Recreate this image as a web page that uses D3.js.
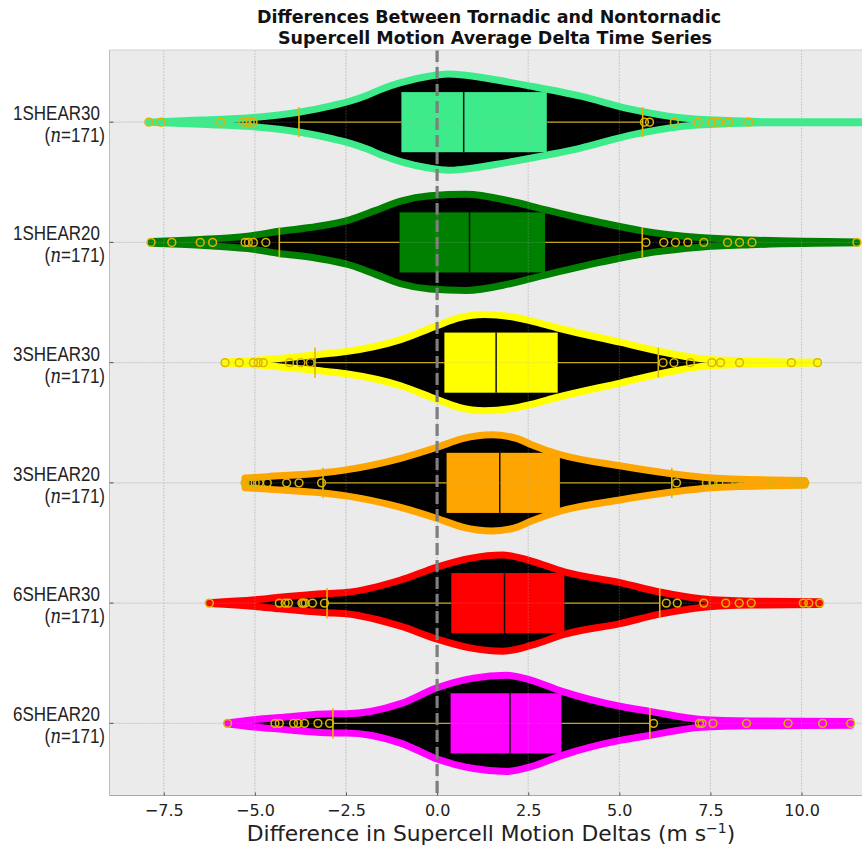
<!DOCTYPE html>
<html>
<head>
<meta charset="utf-8">
<script src="https://cdn.jsdelivr.net/npm/d3@7"></script>
<style>
  body { margin: 0; background: #fff; }
  svg { display: block; }
</style>
</head>
<body>
<div id="chart"></div>
<script>
const categories = ['1SHEAR30', '1SHEAR20', '3SHEAR30', '3SHEAR20', '6SHEAR30', '6SHEAR20'];
const counts = [171, 171, 171, 171, 171, 171];
const q1 = [-0.98, -1.03, 0.2, 0.26, 0.39, 0.37];
const medians = [0.73, 0.89, 1.62, 1.72, 1.85, 2.0];
const q3 = [3.01, 2.96, 3.31, 3.37, 3.49, 3.41];
const whiskerLow = [-3.79, -4.33, -3.35, -3.13, -3.02, -2.86];
const whiskerHigh = [5.64, 5.63, 6.07, 6.44, 6.11, 5.84];
const outliers = [
  [-7.91, -7.58, -5.94, -5.33, -5.22, -5.13, -5.05, 5.69, 5.83, 6.51, 7.16, 7.54, 7.72, 8.0, 8.55, 12.3],
  [-7.85, -7.28, -6.5, -6.16, -5.27, -5.18, -5.04, -4.7, 5.73, 6.22, 6.54, 6.88, 7.32, 7.97, 8.3, 8.64, 11.52],
  [-5.82, -5.43, -5.04, -4.91, -4.77, -4.05, -3.74, -3.48, 6.2, 6.5, 6.95, 7.54, 7.78, 8.3, 9.72, 10.44],
  [-5.27, -5.13, -4.99, -4.88, -4.66, -4.13, -3.79, -3.17, 6.57, 7.39, 7.57, 7.73, 8.21, 9.17, 9.86, 10.09],
  [-6.25, -4.33, -4.17, -4.08, -3.71, -3.67, -3.62, -3.42, -3.09, 6.29, 6.59, 7.32, 7.92, 8.29, 8.62, 10.05, 10.2, 10.5],
  [-5.75, -4.45, -4.33, -3.94, -3.81, -3.64, -3.27, -2.95, 5.94, 7.2, 7.27, 7.57, 8.49, 9.63, 10.58, 11.35]
];
// kernel density outline per violin: [value, relative density]
const density1S30 = [[-7.9, 0], [-6.5, 0.045], [-5.13, 0.09], [-3.76, 0.21], [-2.85, 0.35], [-2.38, 0.44], [-1.92, 0.56], [-1.48, 0.7], [-1.0, 0.82], [-0.19, 0.96], [0.3, 1.0], [0.72, 0.98], [1.6, 0.88], [2.56, 0.75], [3.94, 0.54], [5.31, 0.27], [6.69, 0.09], [8.06, 0.03], [9.0, 0.01], [12.3, 0.01]];
const density1S20 = [[-7.85, 0.02], [-6.5, 0.06], [-5.2, 0.13], [-4.33, 0.23], [-3.3, 0.33], [-2.4, 0.47], [-1.7, 0.66], [-1.0, 0.86], [-0.2, 0.97], [0.8, 1.0], [2.0, 0.86], [2.96, 0.68], [4.5, 0.41], [5.63, 0.24], [7.2, 0.1], [8.6, 0.05], [11.52, 0.01]];
const density3S30 = [[-5.82, 0.01], [-4.77, 0.06], [-3.35, 0.16], [-2.5, 0.23], [-1.0, 0.48], [0, 0.77], [0.6, 0.93], [1.3, 1.0], [2.0, 0.96], [2.57, 0.87], [3.31, 0.72], [5.05, 0.42], [6.07, 0.24], [7.25, 0.08], [8.35, 0.035], [10.44, 0.01]];
const density3S20 = [[-5.27, 0.1], [-4.66, 0.13], [-3.13, 0.21], [-2.5, 0.27], [-1.0, 0.51], [0, 0.74], [0.7, 0.92], [1.5, 1.0], [2.2, 0.92], [2.57, 0.8], [3.37, 0.59], [5.05, 0.35], [6.44, 0.19], [7.54, 0.1], [9.17, 0.06], [10.09, 0.05]];
const density6S30 = [[-6.25, 0.01], [-5.0, 0.07], [-4.33, 0.12], [-3.02, 0.2], [-2.5, 0.22], [-1.0, 0.48], [0, 0.75], [0.9, 0.93], [1.8, 1.0], [2.57, 0.88], [3.49, 0.65], [5.05, 0.42], [6.11, 0.23], [7.25, 0.09], [8.6, 0.04], [10.5, 0.03]];
const density6S20 = [[-5.75, 0.01], [-5.1, 0.07], [-4.33, 0.12], [-2.86, 0.2], [-2.5, 0.2], [-1.0, 0.41], [0, 0.74], [1.0, 0.94], [1.9, 1.0], [2.57, 0.9], [3.41, 0.67], [5.05, 0.35], [5.84, 0.25], [7.25, 0.08], [8.6, 0.05], [11.35, 0.04]];
const densities = [density1S30, density1S20, density3S30, density3S20, density6S30, density6S20];
const xTicks = [-7.5, -5.0, -2.5, 0.0, 2.5, 5.0, 7.5, 10.0];

const palette = ['#3deb8b', '#008000', '#ffff00', '#ffa500', '#ff0000', '#ff00ff'];

const width = 862;
const height = 851;
const plot = { left: 109.5, right: 862, top: 50, bottom: 795.5 };
const violinHalf = 0.4; // max half width, in category units
const boxHalf = 0.25;
const capHalf = 0.125;

const svg = d3.select('#chart').append('svg')
  .attr('width', width)
  .attr('height', height);

const x = d3.scaleLinear().domain([-8.99, 11.66]).range([plot.left, plot.right]);
const y = d3.scaleLinear().domain([0.4, 6.6]).range([plot.top, plot.bottom]);
const unit = y(1) - y(0);

svg.append('defs').append('clipPath').attr('id', 'plot-clip')
  .append('rect')
  .attr('x', plot.left).attr('y', plot.top)
  .attr('width', plot.right - plot.left).attr('height', plot.bottom - plot.top);

// Axes background
svg.append('rect')
  .attr('x', plot.left).attr('y', plot.top)
  .attr('width', plot.right - plot.left).attr('height', plot.bottom - plot.top)
  .attr('fill', '#ebebeb');

const gridUnder = svg.append('g');
const body = svg.append('g').attr('clip-path', 'url(#plot-clip)');

const drawGrid = (g, color, opacity) => {
  g.selectAll('.vgrid').data(xTicks).enter().append('line')
    .attr('x1', (d) => x(d)).attr('x2', (d) => x(d))
    .attr('y1', plot.top).attr('y2', plot.bottom)
    .attr('stroke', color).attr('stroke-width', 0.9)
    .attr('stroke-dasharray', '2,1')
    .attr('opacity', opacity);
  g.selectAll('.hgrid').data(categories).enter().append('line')
    .attr('x1', plot.left).attr('x2', plot.right)
    .attr('y1', (_, i) => y(i + 1)).attr('y2', (_, i) => y(i + 1))
    .attr('stroke', color).attr('stroke-width', 0.9)
    .attr('stroke-dasharray', '2,1')
    .attr('opacity', opacity);
};
drawGrid(gridUnder, '#d0d0d0', 1);

// Violins: black body with thick coloured edge
categories.forEach((cat, i) => {
  const cy = y(i + 1);
  const area = d3.area()
    .curve(d3.curveMonotoneX)
    .x((d) => x(d[0]))
    .y0((d) => cy - d[1] * violinHalf * unit)
    .y1((d) => cy + d[1] * violinHalf * unit);
  body.append('path')
    .attr('d', area(densities[i]))
    .attr('fill', '#000')
    .attr('stroke', palette[i])
    .attr('stroke-width', 7)
    .attr('stroke-linejoin', 'round');
});

// Box plots on top
categories.forEach((cat, i) => {
  const cy = y(i + 1);
  const g = body.append('g');

  // Whiskers
  g.append('line')
    .attr('x1', x(whiskerLow[i])).attr('x2', x(q1[i]))
    .attr('y1', cy).attr('y2', cy)
    .attr('stroke', '#c9a400').attr('stroke-width', 1.4);
  g.append('line')
    .attr('x1', x(q3[i])).attr('x2', x(whiskerHigh[i]))
    .attr('y1', cy).attr('y2', cy)
    .attr('stroke', '#c9a400').attr('stroke-width', 1.4);
  [whiskerLow[i], whiskerHigh[i]].forEach((w) => {
    g.append('line')
      .attr('x1', x(w)).attr('x2', x(w))
      .attr('y1', cy - capHalf * unit).attr('y2', cy + capHalf * unit)
      .attr('stroke', '#e0b800').attr('stroke-width', 1.6);
  });

  // Box
  g.append('rect')
    .attr('x', x(q1[i]))
    .attr('y', cy - boxHalf * unit)
    .attr('width', x(q3[i]) - x(q1[i]))
    .attr('height', 2 * boxHalf * unit)
    .attr('fill', palette[i]);

  // Median
  g.append('line')
    .attr('x1', x(medians[i])).attr('x2', x(medians[i]))
    .attr('y1', cy - boxHalf * unit).attr('y2', cy + boxHalf * unit)
    .attr('stroke', '#111').attr('stroke-width', 1.5);

  // Fliers
  g.selectAll('.flier').data(outliers[i]).enter().append('circle')
    .attr('cx', (d) => x(d)).attr('cy', cy)
    .attr('r', 3.9)
    .attr('fill', 'none')
    .attr('stroke', '#dcb400')
    .attr('stroke-width', 1.5);
});

// Zero reference line
body.append('line')
  .attr('x1', x(0)).attr('x2', x(0))
  .attr('y1', plot.top).attr('y2', plot.bottom)
  .attr('stroke', '#7a7a7a')
  .attr('stroke-width', 3.2)
  .attr('stroke-dasharray', '12,5');

// Grid faintly over the marks
drawGrid(body.append('g'), '#b2b2b2', 0.3);

// Frame
svg.append('line')
  .attr('x1', plot.left).attr('x2', plot.left)
  .attr('y1', plot.top).attr('y2', plot.bottom)
  .attr('stroke', '#bbbbbb').attr('stroke-width', 1);
svg.append('line')
  .attr('x1', plot.left).attr('x2', plot.right)
  .attr('y1', plot.top).attr('y2', plot.top)
  .attr('stroke', '#d0d0d0').attr('stroke-width', 1);
svg.append('line')
  .attr('x1', plot.left).attr('x2', plot.right)
  .attr('y1', plot.bottom).attr('y2', plot.bottom)
  .attr('stroke', '#a8a8a8').attr('stroke-width', 1.2);

// X axis
const xAxis = svg.append('g')
  .attr('transform', `translate(0,${plot.bottom})`)
  .call(d3.axisBottom(x).tickValues(xTicks).tickSize(-3).tickPadding(9)
    .tickFormat((d) => d3.format('.1f')(d).replace('-', '\u2212')));
xAxis.select('.domain').remove();
xAxis.selectAll('.tick line').attr('stroke', '#555');
xAxis.selectAll('.tick text')
  .attr('fill', '#222')
  .style('font-family', '"DejaVu Sans", sans-serif')
  .style('font-size', '16px');

// Y tick marks
svg.selectAll('.ytick').data(categories).enter().append('line')
  .attr('x1', plot.left).attr('x2', plot.left + 4)
  .attr('y1', (_, i) => y(i + 1)).attr('y2', (_, i) => y(i + 1))
  .attr('stroke', '#555').attr('stroke-width', 1);

// Y tick labels (narrowed horizontally like the reference)
const yLab = svg.selectAll('.ylabel').data(categories).enter().append('g')
  .attr('transform', (_, i) => `translate(105,${y(i + 1)}) scale(0.85,1)`)
  .append('text')
  .attr('text-anchor', 'end')
  .style('font-family', '"Liberation Sans", Arial, sans-serif')
  .style('font-size', '20px')
  .attr('fill', '#222');
yLab.append('tspan')
  .attr('x', -6)
  .attr('y', -2)
  .text((d) => d);
const nLine = yLab.append('tspan')
  .attr('x', 0)
  .attr('y', 20);
nLine.append('tspan').text('(');
nLine.append('tspan')
  .style('font-family', '"DejaVu Serif", "Liberation Serif", serif')
  .style('font-style', 'italic')
  .text('n');
nLine.append('tspan').text((_, i) => `=${counts[i]})`);

// X label
const xl = svg.append('text')
  .attr('x', 491)
  .attr('y', 841)
  .attr('text-anchor', 'middle')
  .style('font-family', '"DejaVu Sans", sans-serif')
  .style('font-size', '21.8px')
  .attr('fill', '#222');
xl.append('tspan').text('Difference in Supercell Motion Deltas (m s');
xl.append('tspan').attr('dy', -8).style('font-size', '14px').text('\u22121');
xl.append('tspan').attr('dy', 8).text(')');

// Title
const title = svg.append('text')
  .attr('text-anchor', 'middle')
  .style('font-family', '"DejaVu Sans", sans-serif')
  .style('font-weight', 'bold')
  .style('font-size', '17.5px')
  .attr('fill', '#111');
title.append('tspan').attr('x', 489).attr('y', 23).text('Differences Between Tornadic and Nontornadic');
title.append('tspan').attr('x', 495).attr('y', 44).text('Supercell Motion Average Delta Time Series');
</script>
</body>
</html>
